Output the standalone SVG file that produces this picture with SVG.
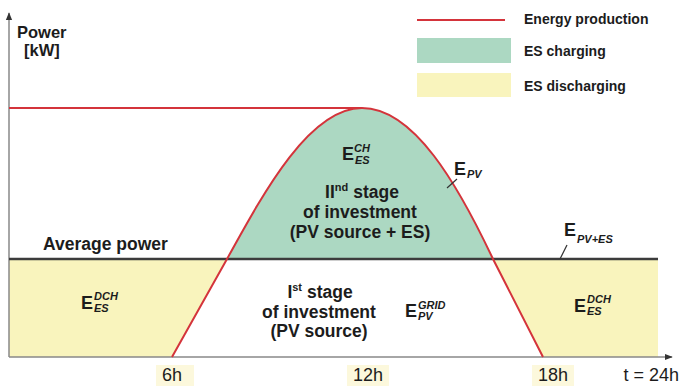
<svg xmlns="http://www.w3.org/2000/svg" width="681" height="386" viewBox="0 0 681 386">
<defs>
<style>
text{font-family:"Liberation Sans",Arial,sans-serif;fill:#1c1c1c;font-weight:bold}
.lbl{font-size:17.5px}
.e{font-size:18px}
.leg{font-size:14px}
.yl{font-size:16.5px}
.ax{font-size:18px;font-weight:normal}
.sub{font-size:11px;font-style:italic}
.sup{font-size:11px}
.red{stroke:#d4343b;stroke-width:2;fill:none}
.lead{stroke:#333;stroke-width:1.2;fill:none}
</style>
<marker id="arr" viewBox="0 0 10 10" refX="9" refY="5" markerWidth="8" markerHeight="8" orient="auto-start-reverse" markerUnits="userSpaceOnUse">
<path d="M0,1 L10,5 L0,9 z" fill="#333"/>
</marker>
</defs>
<rect width="681" height="386" fill="#fff"/>
<g id="xlabel-bg" fill="#fcf8dc">
<rect x="156" y="365" width="38" height="21"/>
<rect x="347" y="365" width="42" height="21"/>
<rect x="532" y="365" width="42" height="21"/>
</g>
<g id="regions">
<polygon points="9,259 227,259 172,357 9,357" fill="#f9f4bd"/>
<polygon points="493,259 658,259 658,357 543,357" fill="#f9f4bd"/>
<path d="M227,259 C265,190 310,108 362,108 C414,108 458,185 493,259 Z" fill="#acd8c2"/>
</g>
<g id="connectors">
<line x1="9" y1="357" x2="9" y2="13" stroke="#888" stroke-width="1.5" marker-end="url(#arr)"/>
<line x1="9" y1="357" x2="672" y2="357" stroke="#888" stroke-width="1.5" marker-end="url(#arr)"/>
<line x1="9" y1="259" x2="658" y2="259" stroke="#3c3c3c" stroke-width="2.5"/>
<line x1="9" y1="108" x2="362" y2="108" class="red"/>
<path d="M172,357 L227,259 C265,190 310,108 362,108 C414,108 458,185 493,259 L543,357" class="red"/>
<line x1="447" y1="188" x2="457" y2="179" class="lead"/>
<line x1="560" y1="259" x2="567" y2="245" class="lead"/>
</g>
<g id="legend">
<line x1="417" y1="20" x2="505" y2="20" class="red"/>
<text x="524" y="24" class="leg">Energy production</text>
<rect x="417" y="38" width="94" height="25" fill="#acd8c2"/>
<text x="524" y="56" class="leg">ES charging</text>
<rect x="417" y="73" width="94" height="24" fill="#f9f4bd"/>
<text x="524" y="91" class="leg">ES discharging</text>
</g>
<g id="y-axis-label">
<text x="17" y="38" class="yl">Power</text>
<text x="24" y="56" class="yl">[kW]</text>
</g>
<g id="avg-label"><text x="43" y="250" class="lbl">Average power</text></g>
<g id="charging">
<text x="342" y="160" class="e">E</text>
<text x="354" y="152" class="sub">CH</text>
<text x="355" y="164" class="sub">ES</text>
<text x="362" y="198" class="lbl" text-anchor="middle">II<tspan class="sup" dy="-7">nd</tspan><tspan dy="7"> stage</tspan></text>
<text x="360" y="218" class="lbl" text-anchor="middle">of investment</text>
<text x="360" y="238" class="lbl" text-anchor="middle">(PV source + ES)</text>
</g>
<g id="epv">
<text x="454" y="175" class="e">E</text>
<text x="467" y="178" class="sub">PV</text>
</g>
<g id="epves">
<text x="564" y="236" class="e">E</text>
<text x="577" y="243" class="sub">PV+ES</text>
</g>
<g id="dch-left">
<text x="81" y="309" class="e">E</text>
<text x="94" y="300" class="sub">DCH</text>
<text x="94" y="312" class="sub">ES</text>
</g>
<g id="dch-right">
<text x="574" y="312" class="e">E</text>
<text x="587" y="303" class="sub">DCH</text>
<text x="587" y="315" class="sub">ES</text>
</g>
<g id="stage1">
<text x="320" y="298" class="lbl" text-anchor="middle">I<tspan class="sup" dy="-7">st</tspan><tspan dy="7"> stage</tspan></text>
<text x="319" y="318" class="lbl" text-anchor="middle">of investment</text>
<text x="319" y="337" class="lbl" text-anchor="middle">(PV source)</text>
</g>
<g id="grid">
<text x="405" y="317" class="e">E</text>
<text x="418" y="309" class="sub">GRID</text>
<text x="418" y="320" class="sub">PV</text>
</g>
<g id="x-labels">
<text x="172" y="381" class="ax" text-anchor="middle">6h</text>
<text x="368" y="381" class="ax" text-anchor="middle">12h</text>
<text x="553" y="381" class="ax" text-anchor="middle">18h</text>
<text x="679" y="381" class="ax" text-anchor="end">t = 24h</text>
</g>
</svg>
